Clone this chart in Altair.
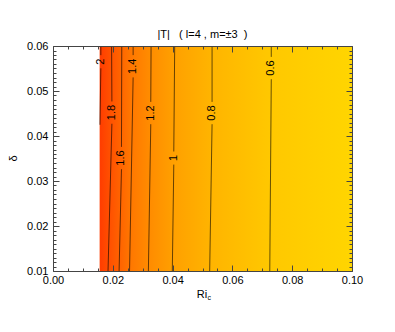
import altair as alt
import pandas as pd

# ---------------- values ----------------
levels = [2.0, 1.8, 1.6, 1.4, 1.2, 1.0, 0.8, 0.6]
level_labels = ["2", "1.8", "1.6", "1.4", "1.2", "1", "0.8", "0.6"]
ri_bottom = [0.0157, 0.0184, 0.0221, 0.0256, 0.0319, 0.0399, 0.0524, 0.0725]
ri_top = [0.0160, 0.0196, 0.0230, 0.0268, 0.0328, 0.0407, 0.0532, 0.0730]
delta_start = [0.0425, 0.01, 0.01, 0.01, 0.01, 0.01, 0.01, 0.01]
label_ri = [0.0160, 0.0197, 0.0229, 0.0268, 0.0327, 0.0404, 0.0532, 0.0730]
label_delta = [0.0565, 0.0452, 0.0351, 0.0555, 0.0451, 0.0351, 0.0451, 0.0551]
ri_min = 0.0156          # left edge of the computed region (white to the left)
fill_colors = ["#ff3c00", "#ff5000", "#ff6400", "#ff7800",
               "#ff8c00", "#ffa000", "#ffb400", "#ffc800"]
edge_color = "#ffd500"   # colour at Ri_c = 0.10
x_ticks = [0.00, 0.02, 0.04, 0.06, 0.08, 0.10]
y_ticks = [0.01, 0.02, 0.03, 0.04, 0.05, 0.06]
x_minor = [0.005, 0.01, 0.015, 0.025, 0.03, 0.035, 0.045, 0.05, 0.055,
           0.065, 0.07, 0.075, 0.085, 0.09, 0.095]
y_minor = [round(0.01 + i * 0.001, 3) for i in range(51) if i % 10]
NB = "\u00a0"
title_text = "|T|" + NB * 3 + "( l=4 , m=±3" + NB * 2 + ")"

# ---------------- layout ----------------
FONT = "Liberation Sans"
W, H = 299, 225
X_DOM = [0.0, 0.10]
Y_DOM = [0.01, 0.06]
xs = alt.Scale(domain=X_DOM, nice=False, zero=False)
ys = alt.Scale(domain=Y_DOM, nice=False, zero=False)
AX = "#444444"

px_per_delta = H / (Y_DOM[1] - Y_DOM[0])
cw = {".": 0.278}


def text_px(s, size=11):
    return sum(cw.get(c, 0.556) for c in s) * size


# contour line segments with a gap around each label
segs = []
for i, lab in enumerate(level_labels):
    half = (text_px(lab) / 2 + 3.5) / px_per_delta
    segs.append(dict(x0=ri_bottom[i], y0=delta_start[i],
                     x1=label_ri[i], y1=label_delta[i] - half))
    if label_delta[i] + half < Y_DOM[1]:
        segs.append(dict(x0=label_ri[i], y0=label_delta[i] + half,
                         x1=ri_top[i], y1=Y_DOM[1]))
seg_df = pd.DataFrame(segs)
lab_df = pd.DataFrame(dict(x=label_ri, y=label_delta, t=level_labels))

# colour field
span = X_DOM[1] - ri_min
stops = [alt.GradientStop(color=fill_colors[0], offset=0.0)]
for i in range(1, len(levels)):
    pos = (ri_bottom[i] + ri_top[i]) / 2
    stops.append(alt.GradientStop(color=fill_colors[i],
                                  offset=max(0.0, min(1.0, (pos - ri_min) / span))))
stops.append(alt.GradientStop(color=edge_color, offset=1.0))
grad = alt.LinearGradient(gradient="linear", stops=stops, x1=0, x2=1, y1=0, y2=0)
field_df = pd.DataFrame(dict(x0=[ri_min], x1=[X_DOM[1]], y0=[Y_DOM[0]], y1=[Y_DOM[1]]))

field = alt.Chart(field_df).mark_rect(fill=grad, strokeWidth=0).encode(
    x=alt.X("x0:Q", scale=xs, axis=None), x2="x1:Q",
    y=alt.Y("y0:Q", scale=ys, axis=None), y2="y1:Q")

lines = alt.Chart(seg_df).mark_rule(color="black", opacity=0.6, strokeWidth=1).encode(
    x=alt.X("x0:Q", scale=xs, axis=None), x2="x1:Q",
    y=alt.Y("y0:Q", scale=ys, axis=None), y2="y1:Q")

labels = alt.Chart(lab_df).mark_text(angle=270, fontSize=11, font=FONT, color="black",
                                     align="center", baseline="middle").encode(
    x=alt.X("x:Q", scale=xs, axis=None),
    y=alt.Y("y:Q", scale=ys, axis=None), text="t:N")


def note(txt, x, y, size=11, angle=0, align="left", baseline="alphabetic"):
    return alt.Chart(pd.DataFrame(dict(t=[txt]))).mark_text(
        fontSize=size, font=FONT, color="black", angle=angle,
        align=align, baseline=baseline).encode(
        x=alt.value(x), y=alt.value(y), text="t:N")


title = note(title_text, W / 2, -8.5, align="center")
ri_title = note("Ri", 143.8, 251.8)
ri_sub = note("c", 154.6, 254.2, size=7)
d_title = note("δ", -39.5, 112.5, angle=270, align="center", baseline="middle")

frame_df = pd.DataFrame(dict(x=X_DOM, y=Y_DOM))


def ax_layer(xaxis, yaxis):
    return alt.Chart(frame_df).mark_point(opacity=0, size=0).encode(
        x=alt.X("x:Q", scale=xs, axis=xaxis),
        y=alt.Y("y:Q", scale=ys, axis=yaxis))


common = dict(grid=False, title=None, tickColor=AX, domainColor=AX,
              tickWidth=1, domainWidth=1, zindex=2)

ax_labels = ax_layer(
    alt.Axis(orient="bottom", values=x_ticks, format=".2f", ticks=False, domain=True,
             labelPadding=3, labelFontSize=11, labelFont=FONT, labelColor="black",
             labelFlush=False, **common),
    alt.Axis(orient="left", values=y_ticks, format=".2f", ticks=False, domain=True,
             labelPadding=5, labelFontSize=11, labelFont=FONT, labelColor="black",
             labelFlush=False, **common))

ax_in_major_a = ax_layer(
    alt.Axis(orient="top", offset=-H, values=x_ticks, labels=False, domain=False,
             tickSize=6, **common),
    alt.Axis(orient="right", offset=-W, values=y_ticks, labels=False, domain=False,
             tickSize=6, **common))
ax_in_minor_a = ax_layer(
    alt.Axis(orient="top", offset=-H, values=x_minor, labels=False, domain=False,
             tickSize=3, **common),
    alt.Axis(orient="right", offset=-W, values=y_minor, labels=False, domain=False,
             tickSize=3, **common))
ax_in_major_b = ax_layer(
    alt.Axis(orient="bottom", offset=-H, values=x_ticks, labels=False, domain=True,
             tickSize=6, **common),
    alt.Axis(orient="left", offset=-W, values=y_ticks, labels=False, domain=True,
             tickSize=6, **common))
ax_in_minor_b = ax_layer(
    alt.Axis(orient="bottom", offset=-H, values=x_minor, labels=False, domain=False,
             tickSize=3, **common),
    alt.Axis(orient="left", offset=-W, values=y_minor, labels=False, domain=False,
             tickSize=3, **common))

chart = alt.layer(
    field, lines, labels, title, ri_title, ri_sub, d_title,
    ax_labels, ax_in_major_a, ax_in_minor_a, ax_in_major_b, ax_in_minor_b
).resolve_axis(x="independent", y="independent").properties(
    width=W, height=H,
    autosize=alt.AutoSizeParams(type="none"),
    padding={"left": 45, "top": 38, "right": 35, "bottom": 53},
).configure_view(stroke=None).configure(background="white")

chart.save("out.html", embed_options={"renderer": "svg", "actions": False})
